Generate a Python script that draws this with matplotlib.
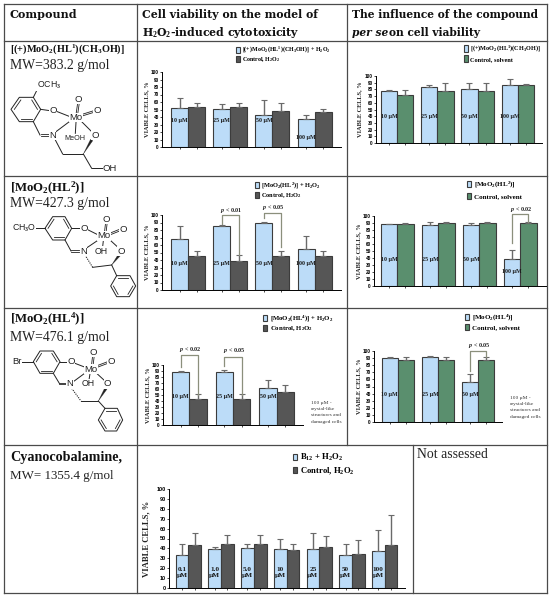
import matplotlib
matplotlib.use('Agg')
import matplotlib.pyplot as plt
import numpy as np
from matplotlib.patches import Polygon

W, H = 550, 597
plt.rcParams['font.family'] = ['Liberation Serif', 'DejaVu Sans']
plt.rcParams['mathtext.fontset'] = 'custom'
plt.rcParams['mathtext.rm'] = 'Liberation Serif:bold'
plt.rcParams['mathtext.bf'] = 'Liberation Serif:bold'
plt.rcParams['mathtext.it'] = 'Liberation Serif:italic:bold'
plt.rcParams['mathtext.default'] = 'rm'

# ---------- data ----------
doses_a = ['10 µM', '25 µM', '50 µM', '100 µM']
doses_b = ['10 µM', '25 µM', '50 µM']
doses_c = ['0.1\nµM', '1.0\nµM', '5.0\nµM', '10\nµM', '25\nµM', '50\nµM', '100\nµM']

c1_test = [52, 51, 43, 38]
c1_ctrl = [54, 54, 48, 47]
c1_test_sd = [13, 7, 20, 5]
c1_ctrl_sd = [5, 5, 11, 4]

c2_test = [78, 83, 80, 87]
c2_ctrl = [72, 77, 77, 87]
c2_test_sd = [1, 4, 10, 9]
c2_ctrl_sd = [7, 13, 13, 1]

c3_test = [68, 86, 90, 55]
c3_ctrl = [45, 39, 45, 45]
c3_test_sd = [17, 1, 1, 17]
c3_ctrl_sd = [7, 8, 7, 7]

c4_test = [88, 87.5, 87, 39]
c4_ctrl = [89, 90, 90, 90]
c4_test_sd = [1, 3.5, 3, 13]
c4_ctrl_sd = [1, 1, 1, 1]

c5_test = [88, 88, 62]
c5_ctrl = [43, 43, 55]
c5_test_sd = [2, 4, 13]
c5_ctrl_sd = [8, 8, 12]

c6_test = [90, 92, 56]
c6_ctrl = [88, 88, 88]
c6_test_sd = [2, 1, 11]
c6_ctrl_sd = [3, 3, 3]

c7_test = [33, 39.5, 40.5, 39.5, 39, 33.5, 37]
c7_ctrl = [43, 44, 44, 38.5, 41, 34.5, 43.5]
c7_test_sd = [11, 1.5, 3.5, 10.5, 17, 11, 22]
c7_ctrl_sd = [13, 10, 10, 5.5, 12, 13.5, 30.5]

BLUE, GREY, GREEN = '#BCDCF8', '#565656', '#5A8F6E'
EDGE = '#3c3c3c'
fig = plt.figure(figsize=(W / 100, H / 100), dpi=100, facecolor='white')

# ---------- page overlay in pixel coordinates ----------
pg = fig.add_axes([0, 0, 1, 1], zorder=0)
pg.set_xlim(0, W)
pg.set_ylim(H, 0)
pg.axis('off')

LC = '#4a4a4a'
for y, x0, x1 in [(4, 4, 547), (41, 4, 547), (176, 4, 547), (308, 4, 547), (445, 4, 547), (593, 4, 547)]:
    pg.plot([x0, x1], [y, y], color=LC, lw=0.9)
for x, y0, y1 in [(4, 4, 593), (137, 4, 593), (347, 4, 445), (413, 445, 593), (547, 4, 593)]:
    pg.plot([x, x], [y0, y1], color=LC, lw=0.9)

HDR = dict(fontweight='bold', va='center', ha='left', color='#111111', family='DejaVu Serif')
pg.text(10, 15, 'Compound', fontsize=8.0, **HDR)
pg.text(142, 15, 'Cell viability on the model of', fontsize=7.8, **HDR)
pg.text(142, 32, r'H$_2$O$_2$-induced cytotoxicity', fontsize=7.8, **HDR)
pg.text(352, 15, 'The influence of the compound', fontsize=7.7, **HDR)
pg.text(352, 32, 'per se', fontsize=7.7, style='italic', **HDR)
pg.text(389, 32, 'on cell viability', fontsize=7.7, **HDR)

NAME = dict(fontweight='bold', va='center', ha='left', color='#111111')
MW = dict(fontsize=9.9, va='center', ha='left', color='#222222')
pg.text(10, 49, r'[(+)MoO$_2$(HL$^1$)(CH$_3$OH)]', fontsize=7.4, **NAME)
pg.text(10, 65, 'MW=383.2 g/mol', **MW)
pg.text(10, 188, r'[MoO$_2$(HL$^2$)]', fontsize=9.2, **NAME)
pg.text(10, 204, 'MW=427.3 g/mol', **MW)
pg.text(10, 319, r'[MoO$_2$(HL$^4$)]', fontsize=9.2, **NAME)
pg.text(10, 337, 'MW=476.1 g/mol', **MW)
pg.text(10, 457, 'Cyanocobalamine,', fontsize=10.2, **NAME)
pg.text(10, 476, 'MW= 1355.4 g/mol', **{**MW, 'fontsize': 9.4})
pg.text(417, 455, 'Not assessed', **MW)

SIDE = dict(fontsize=3.9, va='center', ha='left', color='#333333')
for (x0, y0) in [(311, 403), (510, 398)]:
    for k, s in enumerate(['100 µM -', 'crystal-like', 'structures and', 'damaged cells']):
        pg.text(x0, y0 + k * 6.2, s, **SIDE)

# ---------- molecule sketches (zoom-pixel coords / 3 + origin) ----------
MOL = '#222222'
def mol(ox, oy, ring_sets, bonds, doubles, wedges, labels, hashed=()):
    T = lambda p: (ox + p[0] / 3, oy + p[1] / 3)
    for vs in ring_sets:
        v = np.array([T(p) for p in vs])
        pg.add_patch(Polygon(v, closed=True, fill=False, ec=MOL, lw=0.7))
        c = v.mean(axis=0)
        for i in (0, 2, 4):
            a, b = v[i], v[(i + 1) % 6]
            a2 = a + 0.22 * (c - a); b2 = b + 0.22 * (c - b)
            pg.plot([a2[0], b2[0]], [a2[1], b2[1]], color=MOL, lw=0.6)
    for a, b in bonds:
        a, b = T(a), T(b)
        pg.plot([a[0], b[0]], [a[1], b[1]], color=MOL, lw=0.7)
    for a, b in doubles:
        a, b = np.array(T(a)), np.array(T(b))
        d = b - a; n = np.array([-d[1], d[0]]) / np.hypot(*d) * 0.8
        for s in (-1, 1):
            pg.plot([a[0] + s * n[0], b[0] + s * n[0]], [a[1] + s * n[1], b[1] + s * n[1]], color=MOL, lw=0.6)
    for a, b in wedges:
        a, b = np.array(T(a)), np.array(T(b))
        d = b - a; n = np.array([-d[1], d[0]]) / np.hypot(*d) * 1.3
        pg.add_patch(Polygon([a, b + n, b - n], closed=True, fc=MOL, ec=MOL, lw=0.2))
    for a, b in hashed:
        a, b = T(a), T(b)
        pg.plot([a[0], b[0]], [a[1], b[1]], color=MOL, lw=0.8, ls=(0, (1, 1)))
    for (p, s, fs) in labels:
        q = T(p)
        pg.text(q[0], q[1], s, fontsize=fs, family='Liberation Sans', ha='center', va='center', color=MOL,
                bbox=dict(fc='white', ec='none', pad=0.2), zorder=4)

mol(0, 0,
    [[(33, 328), (58, 292), (100, 292), (122, 328), (100, 365), (58, 365)]],
    [((100, 292), (112, 268)), ((122, 328), (150, 332)), ((172, 335), (210, 350)),
     ((100, 365), (120, 405)), ((168, 395), (212, 362)), ((228, 367), (226, 400)),
     ((245, 365), (275, 395)), ((165, 418), (188, 462)), ((188, 462), (250, 462)),
     ((250, 462), (275, 505)), ((275, 505), (310, 505))],
    [((122, 405), (148, 405)), ((231, 340), (235, 312)), ((248, 345), (280, 335))],
    [((250, 462), (275, 420))],
    [((146, 255), 'OCH$_3$', 6.3), ((160, 332), 'O', 6.8), ((228, 352), 'Mo', 6.8), ((236, 298), 'O', 6.8),
     ((292, 332), 'O', 6.8), ((158, 405), 'N', 6.8), ((225, 415), 'MeOH', 5.2), ((285, 405), 'O', 6.8),
     ((330, 505), 'OH', 6.8)])

mol(0, 180,
    [[(135, 145), (158, 110), (195, 110), (215, 145), (195, 180), (158, 180)],
     [(350, 287), (390, 287), (407, 318), (388, 350), (350, 350), (332, 318)]],
    [((105, 145), (135, 145)), ((215, 145), (240, 145)), ((265, 150), (295, 165)),
     ((195, 180), (213, 213)), ((258, 205), (298, 178)), ((310, 182), (308, 200)),
     ((330, 180), (355, 203)), ((278, 262), (335, 255)), ((335, 255), (350, 287))],
    [((213, 213), (238, 213)), ((316, 155), (319, 130)), ((330, 162), (360, 150))],
    [((335, 255), (358, 225))],
    [((72, 145), 'CH$_3$O', 6.3), ((252, 145), 'O', 6.8), ((312, 168), 'Mo', 6.8), ((320, 118), 'O', 6.8),
     ((370, 147), 'O', 6.8), ((250, 213), 'N', 6.8), ((305, 213), 'OH', 6.3), ((363, 213), 'O', 6.8)],
    hashed=[((255, 225), (278, 262))])

mol(0, 325,
    [[(100, 110), (120, 78), (160, 78), (180, 110), (160, 145), (120, 145)],
     [(315, 250), (352, 250), (368, 285), (350, 318), (315, 318), (295, 285)]],
    [((65, 110), (100, 110)), ((180, 110), (202, 110)), ((225, 115), (256, 127)),
     ((160, 145), (178, 175)), ((220, 170), (258, 142)), ((270, 146), (267, 165)),
     ((290, 145), (315, 168)), ((243, 228), (295, 228)), ((295, 228), (315, 250))],
    [((178, 175), (200, 175)), ((277, 120), (280, 95)), ((290, 125), (322, 113))],
    [((295, 228), (318, 190))],
    [((50, 110), 'Br', 6.8), ((213, 110), 'O', 6.8), ((272, 132), 'Mo', 6.8), ((280, 82), 'O', 6.8),
     ((333, 110), 'O', 6.8), ((210, 177), 'N', 6.8), ((265, 177), 'OH', 6.3), ((323, 177), 'O', 6.8)],
    hashed=[((215, 190), (243, 228))])

# ---------- charts ----------
def chart(box, bars_px, test, ctrl, test_sd, ctrl_sd, doses, ctrl_color, labels, leg, tick_fs=3.4, lab_fs=4.3,
          lab_y=38, lab_over=None, ylab_fs=4.6, ylab_x=-13):
    left, right, top, bottom = box
    px0, bw, pitch = bars_px
    ax = fig.add_axes([left / W, 1 - bottom / H, (right - left) / W, (bottom - top) / H], zorder=2)
    ax.patch.set_alpha(0)
    c0 = px0 + bw
    ax.set_xlim((left - c0) / pitch, (right - c0) / pitch)
    ax.set_ylim(0, 100)
    g = np.arange(len(test))
    w = bw / pitch
    ek = dict(ecolor='#6a6a6a', elinewidth=1.0, capsize=2.4, capthick=0.8)
    b1 = ax.bar(g - w / 2, test, w, color=BLUE, edgecolor=EDGE, lw=0.8, label=labels[0],
                yerr=(np.zeros(len(test)), test_sd), error_kw=ek)
    b2 = ax.bar(g + w / 2, ctrl, w, color=ctrl_color, edgecolor=EDGE, lw=0.8, label=labels[1],
                yerr=(np.zeros(len(ctrl)), ctrl_sd), error_kw=ek)
    for s in ('top', 'right'):
        ax.spines[s].set_visible(False)
    for s in ('left', 'bottom'):
        ax.spines[s].set_linewidth(0.7)
    ax.set_yticks(np.arange(0, 101, 10))
    ax.set_xticks(np.concatenate([g - w / 2, g + w / 2]))
    ax.tick_params(axis='x', labelbottom=False, length=1.2, width=0.5, pad=1)
    ax.tick_params(axis='y', length=1.5, width=0.5, pad=0.8, labelsize=tick_fs)
    for t in ax.get_yticklabels():
        t.set_family('Liberation Sans'); t.set_fontweight('bold')
    ax.set_ylabel('VIABLE CELLS, %', fontsize=ylab_fs, fontweight='bold', color='#222222')
    ax.yaxis.set_label_coords(ylab_x / (right - left), 0.5)
    for i, d in enumerate(doses):
        y = lab_over.get(i, lab_y) if lab_over else lab_y
        ax.text(i - w / 2, y, d, fontsize=lab_fs, fontweight='bold', ha='center', va='center',
                color='#1a1a1a', linespacing=1.25, clip_on=False)
    lx, ly, lfs, spacing = leg
    px = lfs * 100 / 72
    ax.legend(handles=[b1, b2], loc='upper left', bbox_to_anchor=(lx / W, 1 - ly / H), bbox_transform=fig.transFigure,
              frameon=False, borderpad=0, borderaxespad=0, handlelength=4.2 / px, handleheight=7 / px,
              handletextpad=0.35, labelspacing=(spacing - px) / px, prop=dict(family='Liberation Serif', weight='bold', size=lfs))
    return ax, w

def bracket(ax, w, i, j, left_low, right_low, top, label, txt_y):
    xa, xb = i - w / 2, j + w / 2
    ax.plot([xa, xa, xb, xb], [left_low, top, top, right_low], color='#8b8f7c', lw=0.9, clip_on=False, zorder=5)
    ax.text((xa + xb) / 2 + 0.02, txt_y, '$\\mathit{p}$ < ' + label, fontsize=4.4, fontweight='bold', ha='center', va='bottom',
            color='#222222', clip_on=False)

chart((162, 341, 72, 147), (171, 17, 42.2), c1_test, c1_ctrl, c1_test_sd, c1_ctrl_sd, doses_a, GREY,
      [r'[(+)MoO$_2$(HL$^1$)(CH$_3$OH)] + H$_2$O$_2$', r'Control, H$_2$O$_2$'], (236, 45, 4.3, 5.7),
      lab_y=36, lab_over={3: 13})
chart((376, 542, 76, 143), (380.7, 16.3, 40.3), c2_test, c2_ctrl, c2_test_sd, c2_ctrl_sd, doses_a, GREEN,
      [r'[(+)MoO$_2$(HL$^1$)(CH$_3$OH)]', r'Control, solvent'], (464, 44, 4.5, 7.5), lab_y=39, ylab_x=-14)

a3, w3 = chart((162, 341, 215, 290), (171, 17, 42.2), c3_test, c3_ctrl, c3_test_sd, c3_ctrl_sd, doses_a, GREY,
      [r'[MoO$_2$(HL$^2$)] + H$_2$O$_2$', r'Control, H$_2$O$_2$'], (255, 181, 4.6, 6), lab_y=36)
bracket(a3, w3, 1, 1, 88, 47, 100, '0.01', 100)
bracket(a3, w3, 2, 2, 96, 57, 103, '0.05', 104)

a4, w4 = chart((374, 546, 216, 286), (381, 16.3, 41), c4_test, c4_ctrl, c4_test_sd, c4_ctrl_sd, doses_a, GREEN,
      [r'[MoO$_2$(HL$^2$)]', r'Control, solvent'], (467, 180, 5.0, 9.5), lab_y=38, lab_over={3: 20}, ylab_x=-13)
bracket(a4, w4, 3, 3, 61, 91, 103, '0.02', 103)

a5, w5 = chart((163, 303, 365, 425), (172, 17.3, 43.7), c5_test, c5_ctrl, c5_test_sd, c5_ctrl_sd, doses_b, GREY,
      [r'[MoO$_2$(HL$^4$)] + H$_2$O$_2$', r'Control, H$_2$O$_2$'], (263, 314, 4.9, 6.8), lab_y=47)
bracket(a5, w5, 0, 0, 97, 50, 117, '0.02', 119)
bracket(a5, w5, 1, 1, 98, 50, 113, '0.05', 117)

a6, w6 = chart((374, 502, 351, 422), (381.7, 16, 40.3), c6_test, c6_ctrl, c6_test_sd, c6_ctrl_sd, doses_b, GREEN,
      [r'[MoO$_2$(HL$^4$)]', r'Control, solvent'], (465, 313, 5.0, 7.3), lab_y=39)
bracket(a6, w6, 2, 2, 72, 92, 100, '0.05', 102)

chart((169, 405, 489, 588), (175.7, 12.7, 32.7), c7_test, c7_ctrl, c7_test_sd, c7_ctrl_sd, doses_c, GREY,
      [r'B$_{12}$ + H$_2$O$_2$', r'Control, H$_2$O$_2$'], (293, 452, 6.2, 11), tick_fs=4.0, lab_fs=5.2, lab_y=16,
      ylab_fs=6.2, ylab_x=-19)

fig.savefig('out.png', dpi=100, facecolor='white')
